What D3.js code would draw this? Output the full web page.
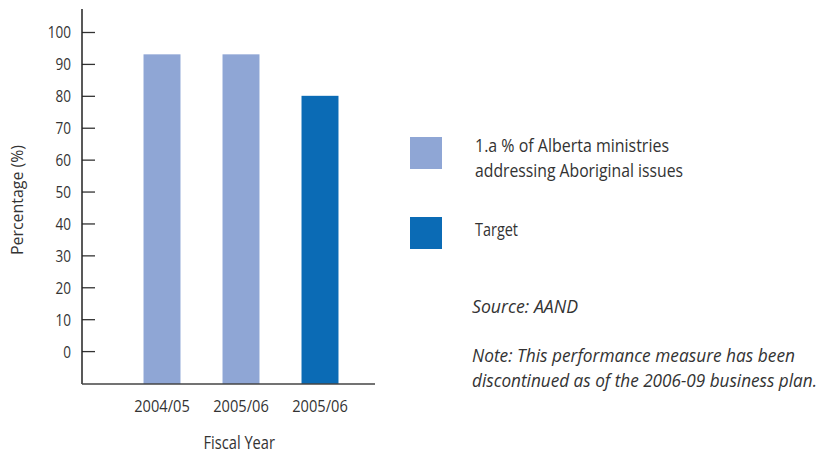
<!DOCTYPE html>
<html>
<head>
<meta charset="utf-8">
<script src="https://cdn.jsdelivr.net/npm/d3@7"></script>
<style>
  html, body { margin: 0; padding: 0; background: #fff; }
  svg text { font-family: "Open Sans", "Noto Sans", sans-serif; fill: #333; }
</style>
</head>
<body>
<svg id="chart" width="820" height="454"></svg>
<script>
// ---- data ----
const categories = ["2004/05", "2005/06", "2005/06"];
const barKeys = ["a", "b", "c"];
const values = [93, 93, 80];
const seriesOf = ["measure", "measure", "target"];
const seriesNames = ["1.a % of Alberta ministries addressing Aboriginal issues", "Target"];
const legendLines = [["1.a % of Alberta ministries", "addressing Aboriginal issues"], ["Target"]];
const seriesColors = { measure: "#8FA6D5", target: "#0B6BB5" };
const yTicks = [0, 10, 20, 30, 40, 50, 60, 70, 80, 90, 100];
const xTitle = "Fiscal Year";
const yTitle = "Percentage (%)";
const sourceText = "Source: AAND";
const noteLines = ["Note: This performance measure has been", "discontinued as of the 2006-09 business plan."];

const svg = d3.select("#chart");

// squeeze a text horizontally to a given width (keeps it as real text)
function fit(sel, w) {
  sel.attr("textLength", w).attr("lengthAdjust", "spacingAndGlyphs");
  return sel;
}
function squeeze(sel, k) {
  sel.each(function () {
    const n = this.getComputedTextLength();
    d3.select(this).attr("textLength", n * k).attr("lengthAdjust", "spacingAndGlyphs");
  });
}

const axisX = 82, axisBottom = 384, axisTop = 9, axisRight = 375;

const y = d3.scaleLinear().domain([-10, 100]).range([383, 32]);
const x = d3.scaleBand().domain(barKeys).range([122.5, 359.5]).paddingInner(0.532).paddingOuter(0.266);

// bars
svg.append("g").selectAll("rect").data(values).join("rect")
  .attr("x", (d, i) => x(barKeys[i]))
  .attr("width", x.bandwidth())
  .attr("y", d => y(d))
  .attr("height", d => axisBottom - y(d))
  .attr("fill", (d, i) => seriesColors[seriesOf[i]]);

// y axis (ticks inside)
const yAxis = d3.axisRight(y).tickValues(yTicks).tickSize(13).tickFormat(d3.format("d"));
const gy = svg.append("g").attr("transform", `translate(${axisX},0)`).call(yAxis);
gy.select(".domain").remove();
gy.selectAll(".tick line").attr("stroke", "#333").attr("stroke-width", 1.3);
gy.selectAll(".tick text").attr("x", -11).attr("text-anchor", "end")
  .attr("font-size", 16.5).attr("dy", "0.36em").attr("fill", "#333");
squeeze(gy.selectAll(".tick text"), 0.82);
svg.append("line").attr("x1", axisX).attr("x2", axisX).attr("y1", axisTop).attr("y2", axisBottom)
  .attr("stroke", "#222").attr("stroke-width", 1.5);

// x axis
const xAxis = d3.axisBottom(x).tickSize(0).tickFormat((d, i) => categories[i]);
const gx = svg.append("g").attr("transform", `translate(0,${axisBottom})`).call(xAxis);
gx.select(".domain").remove();
gx.selectAll(".tick text").attr("font-size", 17).attr("y", 28).attr("dy", 0).attr("fill", "#333");
fit(gx.selectAll(".tick text"), 55.5);
svg.append("line").attr("x1", axisX).attr("x2", axisRight).attr("y1", axisBottom).attr("y2", axisBottom)
  .attr("stroke", "#444").attr("stroke-width", 1.5);

// titles
fit(svg.append("text").attr("x", 203.5).attr("y", 449).attr("font-size", 17.5).text(xTitle), 71.5);
fit(svg.append("text").attr("transform", "translate(23,200) rotate(-90) scale(1,0.92)").attr("text-anchor", "middle")
  .attr("font-size", 17).text(yTitle), 110);

// legend
const legendPos = [
  { color: seriesColors.measure, y: 137, base: 151.5, widths: [194, 208] },
  { color: seriesColors.target, y: 217, base: 235.5, widths: [43] }
];
const lg = svg.append("g");
legendPos.forEach((it, i) => {
  lg.append("rect").attr("x", 410).attr("y", it.y).attr("width", 32).attr("height", 32).attr("fill", it.color);
  legendLines[i].forEach((l, j) => {
    fit(lg.append("text").attr("x", 475).attr("y", it.base + j * 25).attr("font-size", 18).text(l), it.widths[j]);
  });
});

// source & note
fit(svg.append("text").attr("x", 472).attr("y", 313).attr("font-size", 18).attr("font-style", "italic").text(sourceText), 106);
const noteW = [323, 345];
noteLines.forEach((l, j) => {
  fit(svg.append("text").attr("x", 472).attr("y", 361.5 + j * 25).attr("font-size", 18).attr("font-style", "italic").text(l), noteW[j]);
});
</script>
</body>
</html>
